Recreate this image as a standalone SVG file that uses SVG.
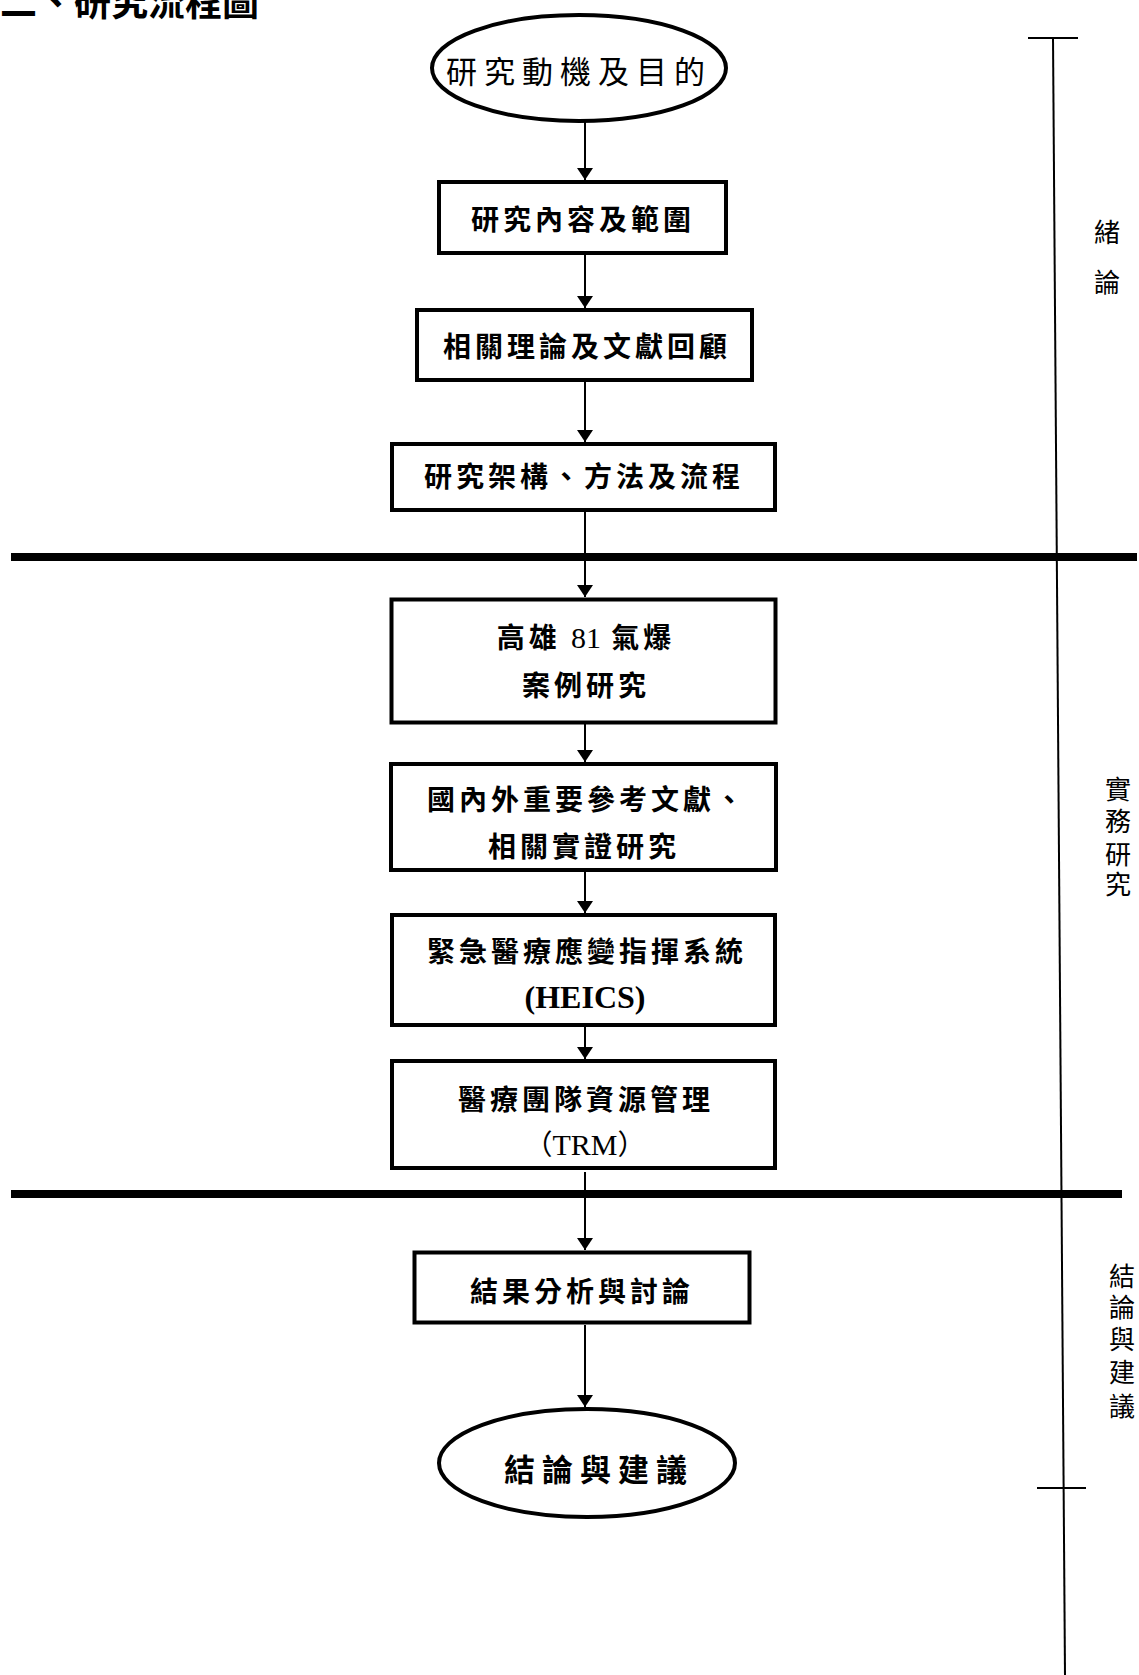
<svg xmlns="http://www.w3.org/2000/svg" width="1139" height="1675" viewBox="0 0 1139 1675">
  <style>
    .box { fill: #fff; stroke: #000; stroke-width: 4; }
    .oval { fill: #fff; stroke: #000; stroke-width: 4; }
    .lbl { font-family: "Noto Sans CJK TC", "Noto Sans CJK SC", sans-serif; font-size: 28px; font-weight: 700; letter-spacing: 4px; text-anchor: middle; fill: #000; }
    .big { font-size: 31px; letter-spacing: 7px; }
    .latin { font-family: "Liberation Serif", serif; letter-spacing: 0; }
    .side { font-family: "Noto Sans CJK TC", "Noto Sans CJK SC", sans-serif; font-size: 26px; text-anchor: middle; fill: #000; }
    .flow { stroke: #000; stroke-width: 2; fill: none; marker-end: url(#arrow); }
    .band { stroke: #000; stroke-width: 8; }
  </style>
  <defs>
    <marker id="arrow" markerUnits="userSpaceOnUse" markerWidth="16" markerHeight="12" viewBox="0 0 16 12" refX="8" refY="12" orient="0">
      <path d="M0,0 L16,0 L8,12 Z" fill="#000"/>
    </marker>
  </defs>

  <rect width="1139" height="1675" fill="#fff"/>

  <!-- heading -->
  <text x="0" y="16" font-family="Noto Sans CJK TC, Noto Sans CJK SC, sans-serif" font-size="37" font-weight="700" fill="#000">二、研究流程圖</text>

  <!-- section dividers -->
  <g id="dividers">
    <line class="band" x1="11" y1="557" x2="1137" y2="557"/>
    <line class="band" x1="11" y1="1194" x2="1122" y2="1194"/>
  </g>

  <!-- stage scale on the right -->
  <g id="scale" stroke="#000" stroke-width="2">
    <line x1="1053" y1="38" x2="1065" y2="1675"/>
    <line x1="1028" y1="38" x2="1078" y2="38"/>
    <line x1="1037" y1="1488" x2="1086" y2="1488"/>
  </g>
  <g id="stage-intro">
    <text class="side" x="1107" y="242">緒<tspan x="1107" dy="50">論</tspan></text>
  </g>
  <g id="stage-practice">
    <text class="side" x="1118" y="799">實<tspan x="1118" dy="32">務</tspan><tspan x="1118" dy="33">研</tspan><tspan x="1118" dy="30">究</tspan></text>
  </g>
  <g id="stage-conclusion">
    <text class="side" x="1122" y="1286">結<tspan x="1122" dy="31">論</tspan><tspan x="1122" dy="32">與</tspan><tspan x="1122" dy="33">建</tspan><tspan x="1122" dy="34">議</tspan></text>
  </g>

  <!-- connectors -->
  <g id="connectors">
    <line class="flow" x1="585" y1="112" x2="585" y2="180"/>
    <line class="flow" x1="585" y1="248" x2="585" y2="308"/>
    <line class="flow" x1="585" y1="375" x2="585" y2="442"/>
    <line class="flow" x1="585" y1="508" x2="585" y2="597"/>
    <line class="flow" x1="585" y1="713" x2="585" y2="762"/>
    <line class="flow" x1="585" y1="860" x2="585" y2="913"/>
    <line class="flow" x1="585" y1="1020" x2="585" y2="1059"/>
    <line class="flow" x1="585" y1="1172" x2="585" y2="1250"/>
    <line class="flow" x1="585" y1="1325" x2="585" y2="1407"/>
  </g>

  <g id="start">
    <ellipse class="oval" cx="579" cy="68" rx="147" ry="53"/>
    <text class="lbl big" x="579" y="83" style="font-weight:400">研究動機及目的</text>
  </g>

  <g id="scope">
    <rect class="box" x="439" y="182" width="287" height="71"/>
    <text class="lbl" x="583" y="230">研究內容及範圍</text>
  </g>

  <g id="review">
    <rect class="box" x="417" y="310" width="335" height="70"/>
    <text class="lbl" x="587" y="357">相關理論及文獻回顧</text>
  </g>

  <g id="method">
    <rect class="box" x="392" y="444" width="383" height="66"/>
    <text class="lbl" x="584" y="487">研究架構、方法及流程</text>
  </g>

  <g id="case">
    <rect class="box" x="391.5" y="599.5" width="384" height="123" stroke-width="5"/>
    <text class="lbl" x="586" y="648">高雄 <tspan class="latin" style="font-weight:400;font-size:30px">81</tspan> 氣爆</text>
    <text class="lbl" x="586" y="696">案例研究</text>
  </g>

  <g id="literature">
    <rect class="box" x="391" y="764" width="385" height="106" stroke-width="3.5"/>
    <text class="lbl" x="587" y="810">國內外重要參考文獻、</text>
    <text class="lbl" x="584" y="857">相關實證研究</text>
  </g>

  <g id="heics">
    <rect class="box" x="392" y="915" width="383" height="110"/>
    <text class="lbl" x="587" y="962">緊急醫療應變指揮系統</text>
    <text class="lbl latin" x="585" y="1008" style="font-size:32px">(HEICS)</text>
  </g>

  <g id="trm">
    <rect class="box" x="392" y="1061" width="383" height="107" stroke-width="3.5"/>
    <text class="lbl" x="586" y="1110">醫療團隊資源管理</text>
    <text class="lbl" x="585" y="1155" style="font-weight:400;letter-spacing:0">（<tspan class="latin" style="font-size:30px">TRM</tspan>）</text>
  </g>

  <g id="analysis">
    <rect class="box" x="414.5" y="1252.5" width="335" height="70" stroke-width="5"/>
    <text class="lbl" x="582" y="1302">結果分析與討論</text>
  </g>

  <g id="end">
    <ellipse class="oval" cx="587" cy="1463" rx="148" ry="54"/>
    <text class="lbl big" x="599" y="1481">結論與建議</text>
  </g>
</svg>
